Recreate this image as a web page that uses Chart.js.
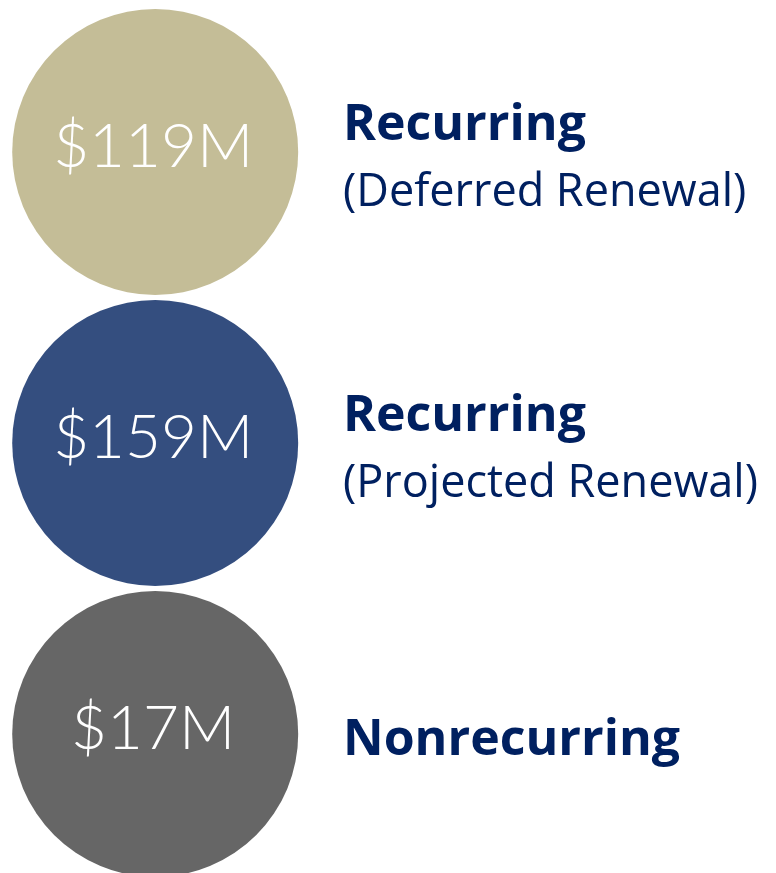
<!DOCTYPE html>
<html>
<head>
<meta charset="utf-8">
<script src="https://cdn.jsdelivr.net/npm/chart.js@4/dist/chart.umd.min.js"></script>
<style>
  html, body { margin: 0; padding: 0; background: #fff; }
  #wrap { width: 776px; height: 873px; }
</style>
</head>
<body>
<div id="wrap"><canvas id="revenue"></canvas></div>
<script>
const categories = ['Recurring', 'Recurring', 'Nonrecurring'];
const subtitles = ['(Deferred Renewal)', '(Projected Renewal)', ''];
const values = [119, 159, 17]; // $M
const colors = ['#C4BD97', '#344E7F', '#666666'];

const textColor = '#002060';
const numFont = '300 62px Lato, "Open Sans", sans-serif';
const titleFont = 'bold 50px "Open Sans", sans-serif';
const subFont = '45px "Open Sans", sans-serif';

const labelPlugin = {
  id: 'circleLabels',
  afterDatasetsDraw(chart) {
    const ctx = chart.ctx;
    const meta = chart.getDatasetMeta(0);
    ctx.save();
    meta.data.forEach((pt, i) => {
      const { x, y } = pt.getProps(['x', 'y'], true);
      // value inside circle
      ctx.fillStyle = '#ffffff';
      ctx.font = numFont;
      ctx.textAlign = 'center';
      ctx.textBaseline = 'alphabetic';
      ctx.fillText('$' + values[i] + 'M', x - 2, y + 15);
      // category label on the right
      ctx.fillStyle = textColor;
      ctx.textAlign = 'left';
      const lx = 343;
      if (subtitles[i]) {
        ctx.font = titleFont;
        ctx.fillText(categories[i], lx, y - 12);
        ctx.font = subFont;
        ctx.fillText(subtitles[i], lx, y + 54);
      } else {
        ctx.font = titleFont;
        ctx.fillText(categories[i], lx, y + 21);
      }
    });
    ctx.restore();
  }
};

new Chart(document.getElementById('revenue'), {
  type: 'scatter',
  data: {
    datasets: [{
      data: values.map((v, i) => ({ x: 0, y: i })),
      backgroundColor: colors,
      borderWidth: 0,
      pointRadius: 143,
      pointHoverRadius: 143,
      clip: false
    }]
  },
  options: {
    responsive: true,
    maintainAspectRatio: false,
    animation: false,
    events: [],
    layout: { padding: 0, autoPadding: false },
    plugins: { legend: { display: false }, tooltip: { enabled: false } },
    scales: {
      x: { display: false, min: -1, max: 4 },
      y: { display: false, reverse: true, min: -0.522, max: 2.478 }
    }
  },
  plugins: [labelPlugin]
});
</script>
</body>
</html>
